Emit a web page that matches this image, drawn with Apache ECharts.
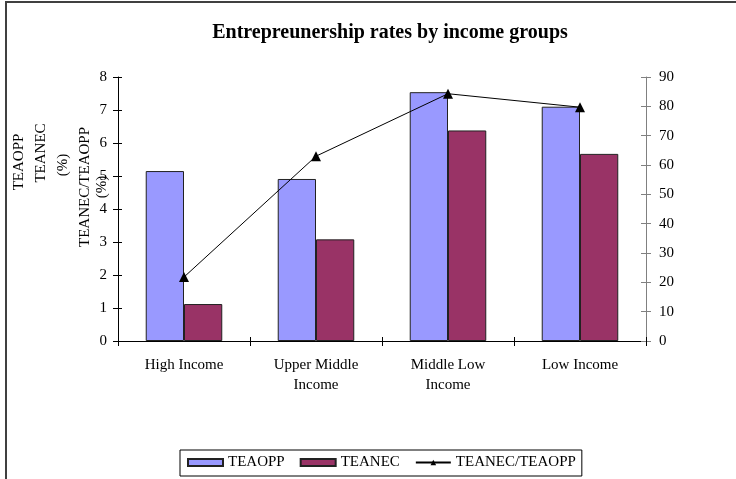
<!DOCTYPE html>
<html><head><meta charset="utf-8">
<script src="https://cdn.jsdelivr.net/npm/echarts@6/dist/echarts.min.js"></script>
<style>html,body{margin:0;padding:0;background:#fff}#c{width:736px;height:479px}</style>
</head><body><div id="c"></div>
<script>
const categories = ['High Income', 'Upper Middle\nIncome', 'Middle Low\nIncome', 'Low Income'];
const teaopp = [5.15, 4.91, 7.54, 7.10];
const teanec = [1.12, 3.08, 6.38, 5.67];
const ratio = [21.8, 63.0, 84.3, 79.7];
const leftTicks = {min: 0, max: 8, interval: 1};
const rightTicks = {min: 0, max: 90, interval: 10};

const FONT = 'Liberation Serif';
const FS = 15;
const chart = echarts.init(document.getElementById('c'));
const grid = {left: 118, right: 90, top: 77, bottom: 138};
const txt = (x, y, s) => ({type: 'text', x: x, y: y, rotation: Math.PI / 2,
  style: {text: s, font: FS + 'px "' + FONT + '"', fill: '#000', align: 'center', verticalAlign: 'middle'}});

chart.setOption({
  animation: false,
  backgroundColor: '#fff',
  title: {text: 'Entrepreunership rates by income groups', left: 385, textAlign: 'center', top: 18,
    textStyle: {fontFamily: FONT, fontWeight: 'bold', fontSize: 20, color: '#000'}},
  grid: grid,
  legend: {left: 180, top: 450, padding: [5, 6, 6, 7], borderColor: '#000', borderWidth: 1,
    itemWidth: 35, itemHeight: 7, itemGap: 15,
    textStyle: {fontFamily: FONT, fontSize: FS, color: '#000'},
    data: [{name: 'TEAOPP', icon: 'rect'}, {name: 'TEANEC', icon: 'rect'}, {name: 'TEANEC/TEAOPP'}]},
  xAxis: [
    {type: 'category', data: categories, position: 'bottom',
      axisLine: {lineStyle: {color: '#000', width: 1}},
      axisTick: {show: true, length: 5, lineStyle: {color: '#000'}},
      axisLabel: {fontFamily: FONT, fontSize: FS, color: '#000', margin: 14, lineHeight: 20}},
    {type: 'category', data: categories, position: 'bottom',
      axisLine: {show: false}, axisLabel: {show: false},
      axisTick: {show: true, inside: true, length: 4, lineStyle: {color: '#000'}}}
  ],
  yAxis: [
    {type: 'value', position: 'left', min: leftTicks.min, max: leftTicks.max, interval: leftTicks.interval,
      axisLine: {show: true, lineStyle: {color: '#000'}},
      axisTick: {show: true, length: 5, lineStyle: {color: '#000'}},
      splitLine: {show: false},
      axisLabel: {fontFamily: FONT, fontSize: FS, color: '#000', margin: 11}},
    {type: 'value', position: 'right', min: rightTicks.min, max: rightTicks.max, interval: rightTicks.interval,
      axisLine: {show: true, lineStyle: {color: '#808080'}},
      axisTick: {show: true, length: 5, lineStyle: {color: '#808080'}},
      splitLine: {show: false},
      axisLabel: {fontFamily: FONT, fontSize: FS, color: '#000', margin: 13}},
    {type: 'value', position: 'left', min: leftTicks.min, max: leftTicks.max, interval: leftTicks.interval,
      axisLine: {show: false}, axisLabel: {show: false}, splitLine: {show: false},
      axisTick: {show: true, inside: true, length: 4, lineStyle: {color: '#000'}}},
    {type: 'value', position: 'right', min: rightTicks.min, max: rightTicks.max, interval: rightTicks.interval,
      axisLine: {show: false}, axisLabel: {show: false}, splitLine: {show: false},
      axisTick: {show: true, inside: true, length: 5, lineStyle: {color: '#808080'}}}
  ],
  series: [
    {name: 'TEAOPP', type: 'bar', data: teaopp, yAxisIndex: 0, barGap: '0%', barCategoryGap: '42%',
      itemStyle: {color: '#9999FF', borderColor: '#222', borderWidth: 1}},
    {name: 'TEANEC', type: 'bar', data: teanec, yAxisIndex: 0,
      itemStyle: {color: '#993366', borderColor: '#222', borderWidth: 1}},
    {name: 'TEANEC/TEAOPP', type: 'line', data: ratio, yAxisIndex: 1, symbol: 'triangle', symbolSize: 10,
      lineStyle: {color: '#000', width: 1}, itemStyle: {color: '#000'}}
  ],
  graphic: [
    {type: 'polyline', shape: {points: [[6, 479], [6, 2], [736, 2]]}, style: {stroke: '#404040', lineWidth: 2, fill: null}},
    txt(19, 162, 'TEAOPP'),
    txt(41, 153, 'TEANEC'),
    txt(63, 165, '(%)'),
    txt(85, 187, 'TEANEC/TEAOPP'),
    txt(102, 187, '(%)')
  ]
});
</script></body></html>
